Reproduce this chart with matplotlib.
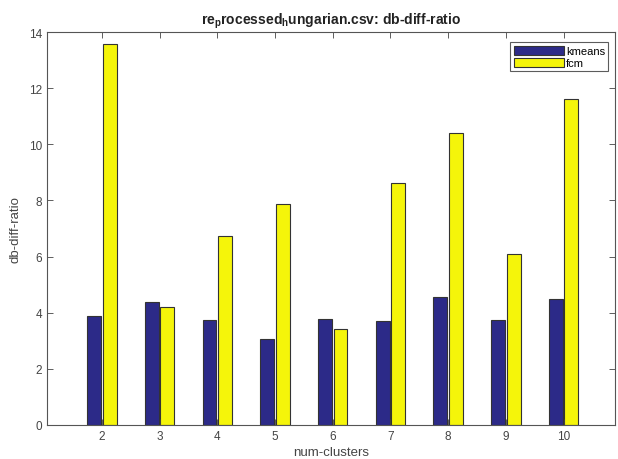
import numpy as np
import matplotlib.pyplot as plt

plt.rcParams['font.family'] = ['Liberation Sans', 'DejaVu Sans']

clusters = [2, 3, 4, 5, 6, 7, 8, 9, 10]
kmeans = [3.88, 4.38, 3.74, 3.06, 3.78, 3.70, 4.56, 3.74, 4.49]
fcm = [13.57, 4.20, 6.73, 7.87, 3.42, 8.62, 10.40, 6.09, 11.61]

fig = plt.figure(figsize=(6.18, 4.6), dpi=100)
ax = fig.add_axes([47 / 618, 34 / 460, (615 - 47) / 618, (426 - 33) / 460])

x = np.array(clusters)
w = 0.24
ax.bar(x - 0.135, kmeans, w, color='#2c2a88', edgecolor='#333333', linewidth=0.8, label='kmeans')
ax.bar(x + 0.135, fcm, w, color='#f5f50a', edgecolor='#333333', linewidth=0.8, label='fcm')

ax.set_xlim(1.05, 10.89)
ax.set_ylim(0, 14)
ax.set_xticks(clusters)
ax.set_yticks(range(0, 15, 2))
ax.tick_params(direction='in', top=True, right=True, length=4, labelsize=8.5,
               colors='#444444', width=0.6)
for s in ax.spines.values():
    s.set_color('#555555')
    s.set_linewidth(0.8)

ax.set_xlabel('num-clusters', fontsize=9.5, color='#444444', labelpad=3)
ax.set_ylabel('db-diff-ratio', fontsize=9.5, color='#444444', labelpad=5)
ax.set_title(r're$_{\mathregular{p}}$rocessed$_{\mathregular{h}}$ungarian.csv: db-diff-ratio',
             fontsize=10, fontweight='bold', color='#222222', pad=6)

leg = ax.legend(loc='upper right', fontsize=8, frameon=True, fancybox=False,
                edgecolor='#333333', handlelength=4.5, handleheight=0.9,
                borderpad=0.3, labelspacing=0.15, handletextpad=0.2,
                bbox_to_anchor=(0.998, 0.988))
leg.get_frame().set_linewidth(0.8)

fig.savefig('out.png', dpi=100)
